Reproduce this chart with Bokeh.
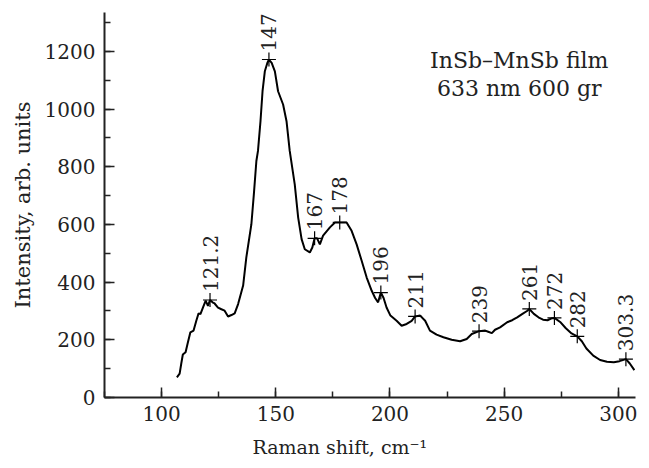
import numpy as np
from bokeh.plotting import figure
from bokeh.models import SingleIntervalTicker, Range1d, ColumnDataSource
from bokeh.core.properties import value
from bokeh.embed import file_html
from bokeh.resources import INLINE

# Raman spectrum
raman_shift = [106.7, 107.9, 108.6, 109.3, 110.5, 111.5, 112.6, 114.0, 115.2, 116.2,
               117.0, 118.1, 119.3, 120.3, 121.2, 122.3, 123.2, 124.7, 126.2, 127.6,
               129.1, 130.6, 132.0, 133.5, 135.7, 137.1, 139.3, 140.4, 141.5, 142.2,
               143.3, 144.2, 145.2, 146.3, 147.0, 148.2, 149.6, 151.0, 153.2, 154.7,
               156.1, 158.3, 159.8, 161.3, 162.7, 164.9, 166.0, 167.0, 168.1, 169.3,
               170.7, 173.7, 175.9, 178.0, 181.0, 183.2, 185.4, 187.6, 189.8, 192.0,
               193.5, 194.8, 196.0, 197.2, 198.5, 200.2, 202.9, 205.1, 207.3, 209.5,
               211.0, 213.2, 215.4, 217.5, 220.4, 223.4, 227.0, 230.7, 233.6, 235.8,
               239.0, 241.7, 243.0, 244.6, 246.0, 248.2, 251.3, 253.5, 255.7, 258.0,
               260.0, 261.0, 263.0, 265.0, 267.0, 269.0, 271.0, 272.0, 274.5, 277.0,
               279.5, 282.0, 284.0, 286.0, 289.0, 292.0, 295.0, 298.0, 300.5, 303.3,
               305.0, 307.0]
intensity = [70, 83, 117, 149, 157, 191, 226, 232, 266, 292,
             289, 312, 336, 318, 338, 330, 326, 312, 306, 301,
             281, 286, 292, 324, 388, 486, 600, 705, 820, 855,
             958, 1062, 1131, 1160, 1172, 1160, 1131, 1062, 1016, 958,
             855, 739, 624, 549, 514, 503, 520, 552, 552, 531,
             561, 590, 607, 607, 607, 578, 531, 474, 416, 370,
             345, 330, 364, 345, 312, 284, 266, 249, 255, 266,
             281, 284, 266, 232, 218, 209, 200, 195, 203, 220,
             230, 232, 228, 223, 235, 243, 261, 268, 278, 290,
             300, 307, 290, 278, 270, 268, 275, 276, 262, 240,
             222, 212, 195, 170, 145, 130, 124, 122, 126, 133,
             118, 95]

peak_shift = [121.2, 147, 167, 178, 196, 211, 239, 261, 272, 282, 303.3]
peak_intensity = [338, 1172, 552, 607, 364, 281, 230, 307, 276, 212, 133]
peak_labels = ["121.2", "147", "167", "178", "196", "211", "239", "261", "272", "282", "303.3"]

annot_lines = ["InSb\u2013MnSb film", "633 nm 600 gr"]

FONT = "DejaVu Serif"
INK = "#222222"

p = figure(width=641, height=466, output_backend="svg", toolbar_location=None,
           x_range=Range1d(75, 307.5), y_range=Range1d(0, 1335),
           min_border_left=104, min_border_right=6, min_border_top=12, min_border_bottom=69)
p.outline_line_color = None
p.grid.visible = False
p.background_fill_color = "white"
p.border_fill_color = "white"

p.xaxis.ticker = SingleIntervalTicker(interval=50, num_minor_ticks=2)
p.yaxis.ticker = SingleIntervalTicker(interval=200, num_minor_ticks=2)
for ax in (p.xaxis, p.yaxis):
    ax.axis_line_width = 2
    ax.axis_line_color = INK
    ax.major_tick_line_width = 1.5
    ax.minor_tick_line_width = 1.5
    ax.major_tick_line_color = INK
    ax.minor_tick_line_color = INK
    ax.major_tick_in = 10
    ax.major_tick_out = 0
    ax.minor_tick_in = 6
    ax.minor_tick_out = 0
    ax.major_label_text_font = FONT
    ax.major_label_text_font_size = "20px"
    ax.major_label_text_color = INK
    ax.axis_label_text_font = FONT
    ax.axis_label_text_font_style = "normal"
    ax.axis_label_text_color = INK
p.xaxis.major_label_standoff = 8
p.yaxis.major_label_standoff = 9

p.yaxis.axis_label = "Intensity, arb. units"
p.yaxis.axis_label_text_font_size = "21px"
p.yaxis.axis_label_standoff = 7

# trailing no-break spaces shift the centred label left, as in the reference
p.xaxis.axis_label = "Raman shift, cm\u207b\u00b9" + "\u00a0" * 10
p.xaxis.axis_label_text_font_size = "19px"
p.xaxis.axis_label_standoff = 12

src = ColumnDataSource(dict(x=raman_shift, y=intensity))
p.line("x", "y", source=src, line_color="black", line_width=2)

psrc = ColumnDataSource(dict(x=peak_shift, y=peak_intensity, t=peak_labels))
p.scatter("x", "y", source=psrc, marker="cross", size=14, line_color="black", line_width=1.2)
p.text("x", "y", text="t", source=psrc, angle=np.pi / 2, text_align="left",
       text_baseline="middle", y_offset=-8, text_font=value(FONT),
       text_font_size="20px", text_color=INK)

p.text(x=[256.6, 256.6], y=[1170, 1073], text=annot_lines, text_align="center",
       text_baseline="alphabetic", text_font=value(FONT), text_font_size="22px",
       text_color=INK)

open("out.html", "w").write(file_html(p, INLINE))
